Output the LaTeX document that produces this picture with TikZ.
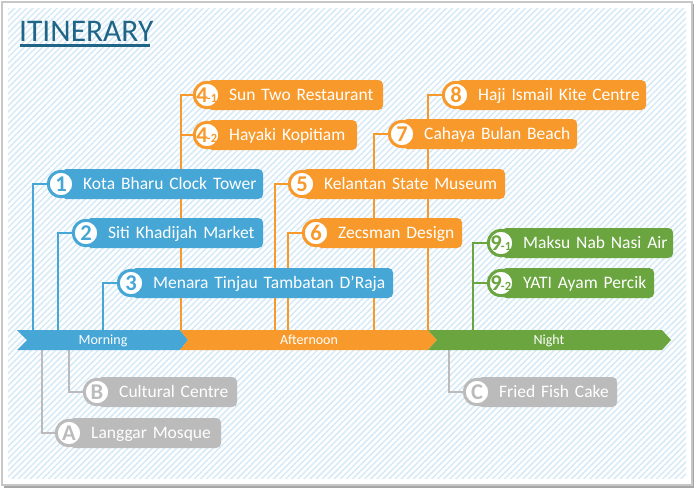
\documentclass[tikz,border=0pt]{standalone}
\usepackage{fontspec}
\setmainfont{Carlito}
\usetikzlibrary{patterns.meta}
\definecolor{cblue}{HTML}{46A6D6}
\definecolor{corange}{HTML}{F7992B}
\definecolor{cgreen}{HTML}{6AA53F}
\definecolor{cgray}{HTML}{BBBBBB}
\definecolor{ctitle}{HTML}{1F6587}
\definecolor{chatch}{HTML}{D5EAF6}
\pgfdeclarelayer{bg}
\pgfdeclarelayer{mid}
\pgfsetlayers{bg,mid,main}
\tikzset{
  boxst/.style={rounded corners=5pt, minimum height=30pt, inner xsep=0pt, inner ysep=0pt,
    align=left, text=white, font=\fontsize{17.5}{20}\selectfont, text height=15pt, text depth=3.7pt},
  badge/.style={circle, fill=white, line width=3pt, minimum size=25.5pt, inner sep=0pt,
    font=\fontsize{22.5}{22}\selectfont\bfseries, text height=14.2pt, text depth=0pt},
  conn/.style={line width=2pt},
  barlabel/.style={text=white, font=\fontsize{14}{14}\selectfont, inner sep=0pt, text height=9pt, text depth=0pt}
}
\newcommand\stopnode[7]{%
  \node[boxst, fill=#5, minimum width=#4pt, text width=#4pt, anchor=west] (b#1) at (#2,#3) {\hspace*{22pt}#7};
  \node[badge, draw=#5, text=#5] (c#1) at (#2,#3) {#6};
}
\newcommand\subbadge[2]{\kern-0.5pt#1\kern-0.8pt{\fontsize{12.5}{12}\selectfont\bfseries -#2}}
\begin{document}
\begin{tikzpicture}[x=1pt,y=-1pt]
\useasboundingbox (0,0) rectangle (696,491);
\begin{pgfonlayer}{bg}
  \fill[black!35] (4,4) rectangle (694,488);
  \filldraw[fill=white, draw=black!22, line width=1.2pt] (2,2) rectangle (692,485);
  \fill[pattern={Lines[angle=45, distance=4.3pt, line width=1.5pt]}, pattern color=chatch] (8,8) rectangle (686,478);
\end{pgfonlayer}

% title
\node[anchor=base west, inner sep=0pt, text=ctitle, font=\fontsize{31.5}{32}\selectfont] (title) at (19,41) {ITINERARY};
\draw[ctitle, line width=3pt] (20,45) -- (150,45);

% timeline bar
\fill[cblue] (17,330) -- (180,330) -- (188,340) -- (180,350) -- (17,350) -- (27,340) -- cycle;
\fill[corange] (180,330) -- (428,330) -- (437,340) -- (428,350) -- (180,350) -- (188,340) -- cycle;
\fill[cgreen] (428,330) -- (662,330) -- (671,340) -- (662,350) -- (428,350) -- (437,340) -- cycle;
\node[barlabel] (morning) at (103,340) {Morning};
\node[barlabel] (afternoon) at (309,340) {Afternoon};
\node[barlabel] (night) at (549,340) {Night};

% stops
\stopnode{1}{61}{184}{202}{cblue}{1}{Kota Bharu Clock Tower}
\stopnode{2}{86}{233}{177}{cblue}{2}{Siti Khadijah Market}
\stopnode{3}{131}{283}{262}{cblue}{3}{Menara Tinjau Tambatan D'Raja}
\stopnode{41}{207}{95}{176}{corange}{\subbadge{4}{1}}{Sun Two Restaurant}
\stopnode{42}{207}{135}{150}{corange}{\subbadge{4}{2}}{Hayaki Kopitiam}
\stopnode{5}{302}{184}{203}{corange}{5}{Kelantan State Museum}
\stopnode{6}{316}{233}{146}{corange}{6}{Zecsman Design}
\stopnode{7}{402}{134}{175}{corange}{7}{Cahaya Bulan Beach}
\stopnode{8}{456}{95}{190}{corange}{8}{Haji Ismail Kite Centre}
\stopnode{91}{501}{243}{172}{cgreen}{\subbadge{9}{1}}{Maksu Nab Nasi Air}
\stopnode{92}{501}{283}{153}{cgreen}{\subbadge{9}{2}}{YATI Ayam Percik}
\stopnode{B}{97}{392}{140}{cgray}{B}{Cultural Centre}
\stopnode{A}{69}{433}{152}{cgray}{A}{Langgar Mosque}
\stopnode{C}{477}{392}{140}{cgray}{C}{Fried Fish Cake}

% bar attachment points
\coordinate (t1) at (33,330);
\coordinate (t2) at (58,330);
\coordinate (t3) at (103,330);
\coordinate (t4) at (181,330);
\coordinate (t5) at (275,330);
\coordinate (t6) at (288,330);
\coordinate (t7) at (374,330);
\coordinate (t8) at (428,330);
\coordinate (t9) at (473,330);
\coordinate (tA) at (42,350);
\coordinate (tB) at (69,350);
\coordinate (tC) at (449,350);

\begin{pgfonlayer}{mid}
  \draw[conn, cblue] (c1.west) -| (t1);
  \draw[conn, cblue] (c2.west) -| (t2);
  \draw[conn, cblue] (c3.west) -| (t3);
  \draw[conn, corange] (c41.west) -| (t4);
  \draw[conn, corange] (c42.west) -| (t4);
  \draw[conn, corange] (c5.west) -| (t5);
  \draw[conn, corange] (c6.west) -| (t6);
  \draw[conn, corange] (c7.west) -| (t7);
  \draw[conn, corange] (c8.west) -| (t8);
  \draw[conn, cgreen] (c91.west) -| (t9);
  \draw[conn, cgreen] (c92.west) -| (t9);
  \draw[conn, cgray] (tA) |- (cA.west);
  \draw[conn, cgray] (tB) |- (cB.west);
  \draw[conn, cgray] (tC) |- (cC.west);
\end{pgfonlayer}
\end{tikzpicture}
\end{document}
